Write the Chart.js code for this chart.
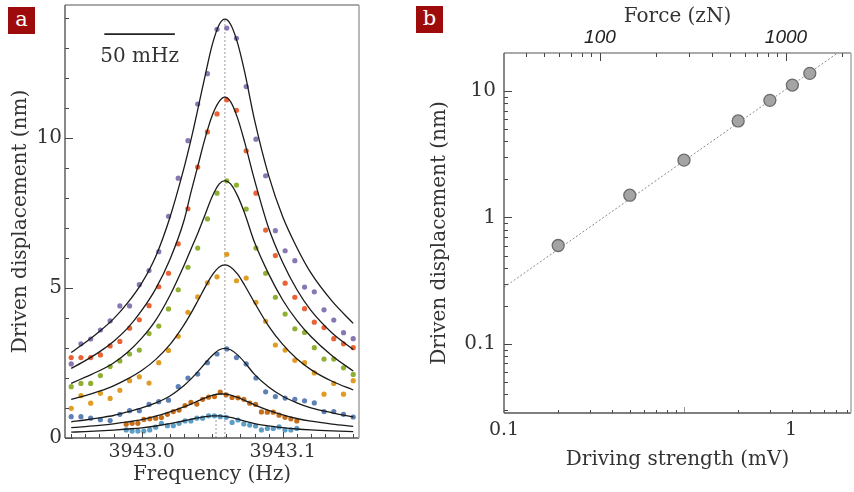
<!DOCTYPE html>
<html><head><meta charset="utf-8">
<script src="https://cdn.jsdelivr.net/npm/chart.js@4.4.1/dist/chart.umd.min.js"></script>
<style>
html,body{margin:0;padding:0;background:#fff;width:854px;height:492px;overflow:hidden}
#ca{position:absolute;left:0;top:0}
#cb{position:absolute;left:400px;top:0}
.tag{position:absolute;width:27px;height:27px;background:#9e0b0b;color:#fff;font:21px "DejaVu Serif";text-align:center;line-height:24px}
</style></head><body>
<canvas id="ca" width="400" height="492"></canvas>
<canvas id="cb" width="454" height="492"></canvas>
<div class="tag" style="left:8px;top:7px">a</div>
<div class="tag" style="left:416px;top:6px">b</div>
<script>
// ---------- Panel a data ----------
const freqA = [3942.9500,3942.9569,3942.9638,3942.9707,3942.9776,3942.9845,3942.9914,3942.9983,3943.0052,3943.0121,
  3943.0190,3943.0259,3943.0328,3943.0397,3943.0466,3943.0534,3943.0603,3943.0672,3943.0741,3943.0810,
  3943.0879,3943.0948,3943.1017,3943.1086,3943.1155,3943.1224,3943.1293,3943.1362,3943.1431,3943.1500];
const freqB = [3942.9890,3942.9932,3942.9973,3943.0015,3943.0057,3943.0099,3943.0140,3943.0182,3943.0224,3943.0265,
  3943.0307,3943.0349,3943.0391,3943.0432,3943.0474,3943.0516,3943.0557,3943.0599,3943.0641,3943.0683,
  3943.0724,3943.0766,3943.0808,3943.0849,3943.0891,3943.0933,3943.0974,3943.1016,3943.1058,3943.1100];
const purpleDots = [2.47,3.14,3.3,3.6,3.9,4.4,4.4,5.11,5.58,6.21,7.39,8.66,9.91,11.13,12.14,13.62,13.66,13.32,11.71,9.96,8.74,6.91,6.24,5.91,5.03,4.87,4.27,3.93,3.51,3.31];
const redDots    = [2.68,2.68,2.68,2.77,3.07,3.22,3.66,3.94,4.41,5.04,5.49,6.47,7.64,9.03,10.2,10.8,11.27,10.92,9.57,8.16,6.93,6.08,5.16,4.69,4.31,3.86,3.68,3.31,3.14,3.01];
const greenDots  = [1.71,1.82,1.82,2.08,2.38,2.57,2.8,2.93,3.48,3.73,4.3,4.94,5.69,6.33,7.3,8.16,8.57,8.43,7.63,6.33,5.49,4.69,4.13,3.64,3.52,3.01,2.63,2.63,2.34,2.12];
const orangeDots = [0.99,1.41,1.16,1.49,1.32,1.59,1.91,2.04,1.83,2.51,2.92,3.39,4.19,4.7,5.17,5.37,6.12,5.24,5.33,4.52,3.89,3.1,2.93,2.59,2.51,2.17,1.46,1.82,1.46,1.91];
const blueDots   = [0.71,0.71,0.66,0.61,0.58,0.79,0.91,0.91,1.12,1.21,1.26,1.71,2.0,2.13,2.51,2.8,2.97,2.68,2.47,2.0,1.54,1.38,1.33,1.29,1.24,1.17,0.88,0.88,0.79,0.7];
const brownDots  = [0.46,0.49,0.49,0.62,0.64,0.66,0.68,0.79,0.88,0.93,1.08,1.19,1.13,1.29,1.36,1.38,1.53,1.44,1.35,1.34,1.29,1.16,1.12,0.87,0.86,0.86,0.76,0.69,0.64,0.57];
const cyanDots   = [0.27,0.23,0.23,0.23,0.27,0.36,0.49,0.41,0.41,0.49,0.57,0.57,0.66,0.66,0.74,0.74,0.71,0.69,0.52,0.6,0.47,0.43,0.4,0.27,0.32,0.32,0.37,0.27,0.27,0.32];

const fitFreq = [3942.95,3942.96,3942.97,3942.98,3942.99,3943.00,3943.01,3943.02,3943.03,3943.035,3943.04,3943.045,3943.05,
  3943.055,3943.059,3943.063,3943.068,3943.073,3943.08,3943.09,3943.10,3943.11,3943.12,3943.135,3943.15];
const purpleFit = [2.85,3.18,3.55,3.97,4.50,5.16,6.06,7.35,9.0,9.95,11.0,12.08,13.1,13.78,13.96,13.79,13.16,12.2,10.6,8.75,7.37,6.35,5.5,4.56,3.82];
const redFit    = [2.32,2.58,2.87,3.22,3.66,4.25,4.98,5.95,7.25,8.2,9.1,10.0,10.75,11.22,11.36,11.21,10.66,9.86,8.6,7.0,5.85,4.95,4.25,3.5,2.95];
const greenFit  = [1.82,2.03,2.24,2.5,2.86,3.33,3.93,4.75,5.75,6.3,6.85,7.45,8.05,8.47,8.58,8.47,8.07,7.49,6.52,5.47,4.6,3.92,3.38,2.74,2.23];
const orangeFit = [1.29,1.41,1.56,1.74,1.97,2.25,2.62,3.11,3.77,4.16,4.59,5.03,5.43,5.70,5.77,5.70,5.46,5.09,4.51,3.73,3.12,2.64,2.28,1.89,1.60];
const blueFit   = [0.54,0.6,0.67,0.75,0.87,1.0,1.17,1.4,1.75,1.97,2.22,2.49,2.75,2.94,2.99,2.94,2.77,2.52,2.12,1.7,1.39,1.17,1.0,0.84,0.7];
const brownFit  = [0.345,0.38,0.42,0.47,0.535,0.61,0.725,0.87,1.04,1.13,1.235,1.335,1.42,1.466,1.466,1.432,1.354,1.252,1.105,0.92,0.77,0.65,0.56,0.465,0.39];
const cyanFit   = [0.194,0.213,0.237,0.265,0.30,0.34,0.40,0.48,0.575,0.622,0.671,0.711,0.736,0.738,0.72,0.685,0.625,0.56,0.48,0.405,0.345,0.30,0.268,0.235,0.21];

const peakLineX = [3943.059,3943.059], peakLineY = [0,13.96];
const peakLine2X = [3943.0527,3943.0527], peakLine2Y = [0,0.72];
const scaleBarX = [3942.9735,3943.0235], scaleBarY = [13.46,13.46];
const scaleBarLabel = '50 mHz';
const aXTicks = [3943.0,3943.1];
const aYTicks = [0,5,10];
const aXMinor = [3942.95,3942.96,3942.97,3942.98,3942.99,3943.0,3943.01,3943.02,3943.03,3943.04,3943.05,
  3943.06,3943.07,3943.08,3943.09,3943.1,3943.11,3943.12,3943.13,3943.14,3943.15];
const aYMinor = [0,1,2,3,4,5,6,7,8,9,10,11,12,13,14];

// ---------- Panel b data ----------
const driveMV = [0.2,0.5,1,2,3,4,5];
const dispNM  = [0.6,1.5,2.84,5.8,8.44,11.15,13.8];
const fitMV = [0.1,7.14], fitNM = [0.28,20];
const bYTicks = [0.1,1,10], bYTickLabels = ['0.1','1','10'];
const bXTickPos = [0.1,3.93], bXTickLabels = ['0.1','1'];
const forceTicks = [100,1000], forceTickLabels = ['100','1000'];
const bYMinor = [0.03,0.04,0.05,0.06,0.07,0.08,0.09,0.1,0.2,0.3,0.4,0.5,0.6,0.7,0.8,0.9,1,2,3,4,5,6,7,8,9,10];
const bXMinor = [0.2,0.3,0.4,0.5,0.6,0.7,0.8,0.9,1,2,3,4,5,6,7,8];
const forceMinor = [40,50,60,70,80,90,100,200,300,400,500,600,700,800,900,1000,2000];

const C = {purple:'#8778B3', red:'#EB6235', green:'#8FB032', orange:'#E19C24', blue:'#5E81B5', brown:'#C56E1A', cyan:'#5D9EC7'};
const SERIF = '"DejaVu Serif", serif';
const TXT = '#333';
const pts = (xs, ys) => xs.map((x, i) => ({x: x, y: ys[i]}));
const noPadX = s => { s.paddingLeft = 0; s.paddingRight = 0; };
const noPadY = s => { s.paddingTop = 0; s.paddingBottom = 0; };

const framePlugin = {
  id: 'frame',
  afterDraw(chart, args, o) {
    const ctx = chart.ctx, a = chart.chartArea;
    ctx.save();
    (o.marks || []).forEach(m => {
      const s = chart.scales[m.scale];
      ctx.lineWidth = 1;
      m.values.forEach(v => {
        const isMajor = (m.major || []).indexOf(v) >= 0;
        const len = isMajor ? m.majorLen : m.minorLen;
        ctx.strokeStyle = (isMajor && m.majorColor) ? m.majorColor : (m.color || '#444');
        const p = Math.round(s.getPixelForValue(v)) + 0.5;
        ctx.beginPath();
        if (m.side === 'left') { ctx.moveTo(a.left, p); ctx.lineTo(a.left + len, p); }
        else if (m.side === 'bottom') { ctx.moveTo(p, a.bottom); ctx.lineTo(p, a.bottom - len); }
        else if (m.side === 'top') { ctx.moveTo(p, a.top); ctx.lineTo(p, a.top + len); }
        ctx.stroke();
      });
    });
    const f = o.frame || {};
    const seg = (col, w, x1, y1, x2, y2) => { if (!col) return; ctx.strokeStyle = col; ctx.lineWidth = w; ctx.beginPath(); ctx.moveTo(x1, y1); ctx.lineTo(x2, y2); ctx.stroke(); };
    seg(f.left, 1.4, a.left, a.top, a.left, a.bottom);
    seg(f.bottom, 1.4, a.left, a.bottom, a.right, a.bottom);
    seg(f.top, 1.2, a.left, a.top, a.right, a.top);
    seg(f.right, 1.6, a.right, a.top, a.right, a.bottom);
    if (o.label) {
      const xs = chart.scales.x, ys = chart.scales.y;
      const cx = (xs.getPixelForValue(o.label.x[0]) + xs.getPixelForValue(o.label.x[1])) / 2;
      const cy = ys.getPixelForValue(o.label.y[0]) + 23;
      ctx.fillStyle = TXT; ctx.font = '20px ' + SERIF; ctx.textAlign = 'center'; ctx.textBaseline = 'middle';
      ctx.fillText(o.label.text, cx, cy);
    }
    ctx.restore();
  }
};

function fitLine(xs, ys) {
  return {data: pts(xs, ys), showLine: true, borderColor: '#1a1a1a', borderWidth: 1.3, pointRadius: 0, cubicInterpolationMode: 'monotone'};
}
function dots(xs, ys, col) {
  return {data: pts(xs, ys), showLine: false, pointRadius: 2.6, pointBorderWidth: 0, backgroundColor: col, borderColor: col};
}
function dotted(xs, ys) {
  return {data: pts(xs, ys), showLine: true, borderColor: '#9a9a9a', borderWidth: 1, borderDash: [2, 2], pointRadius: 0};
}

new Chart(document.getElementById('ca'), {
  type: 'scatter',
  data: {datasets: [
    fitLine(fitFreq, purpleFit), fitLine(fitFreq, redFit), fitLine(fitFreq, greenFit), fitLine(fitFreq, orangeFit),
    fitLine(fitFreq, blueFit), fitLine(fitFreq, brownFit), fitLine(fitFreq, cyanFit),
    dots(freqA, purpleDots, C.purple), dots(freqA, redDots, C.red), dots(freqA, greenDots, C.green),
    dots(freqA, orangeDots, C.orange), dots(freqA, blueDots, C.blue),
    dots(freqB, brownDots, C.brown), dots(freqB, cyanDots, C.cyan),
    dotted(peakLineX, peakLineY), dotted(peakLine2X, peakLine2Y),
    {data: pts(scaleBarX, scaleBarY), showLine: true, borderColor: '#222', borderWidth: 1.6, pointRadius: 0}
  ]},
  options: {
    responsive: false, animation: false, devicePixelRatio: 1,
    layout: {autoPadding: false, padding: {top: 5, right: 41, left: 0, bottom: 0}},
    plugins: {legend: {display: false}, tooltip: {enabled: false},
      frame: {
        marks: [
          {scale: 'y', side: 'left', values: aYMinor, major: aYTicks, minorLen: 4, majorLen: 8},
          {scale: 'x', side: 'bottom', values: aXMinor, major: aXTicks, minorLen: 4, majorLen: 6}
        ],
        frame: {left: '#555', bottom: '#555', top: '#555', right: '#a8a8a8'},
        label: {x: scaleBarX, y: scaleBarY, text: scaleBarLabel}
      }},
    scales: {
      x: {type: 'linear', position: 'bottom', min: 3942.9456, max: 3943.1541, bounds: 'data',
        afterBuildTicks: s => { s.ticks = aXTicks.map(v => ({value: v})); },
        afterFit: s => { s.height = 54; noPadX(s); },
        grid: {display: false, drawTicks: false}, border: {display: false},
        ticks: {autoSkip: false, maxRotation: 0, padding: 3, color: TXT, font: {family: SERIF, size: 19},
          callback: v => Number(v).toFixed(1)},
        title: {display: true, text: 'Frequency (Hz)', color: TXT, font: {family: SERIF, size: 20}, padding: {top: 0, bottom: 5}}},
      y: {type: 'linear', position: 'left', min: 0, max: 14.43, bounds: 'data',
        afterBuildTicks: s => { s.ticks = aYTicks.map(v => ({value: v})); },
        afterFit: s => { s.width = 65; noPadY(s); },
        grid: {display: false, drawTicks: false}, border: {display: false},
        ticks: {autoSkip: false, padding: 3, color: TXT, font: {family: SERIF, size: 20}, callback: v => String(v)},
        title: {display: true, text: 'Driven displacement (nm)', color: TXT, font: {family: SERIF, size: 20}, padding: {top: 9, bottom: 0}}}
    }
  },
  plugins: [framePlugin]
});

new Chart(document.getElementById('cb'), {
  type: 'scatter',
  data: {datasets: [
    {data: pts(driveMV, dispNM), showLine: false, pointRadius: 6, pointBorderWidth: 1.3,
      backgroundColor: '#a4a4a4', borderColor: '#6c6c6c'},
    {data: pts(fitMV, fitNM), showLine: true, borderColor: '#8a8a8a', borderWidth: 1, borderDash: [2, 2], pointRadius: 0}
  ]},
  options: {
    responsive: false, animation: false, devicePixelRatio: 1,
    layout: {autoPadding: false, padding: {top: 0, right: 3, left: 0, bottom: 0}},
    plugins: {legend: {display: false}, tooltip: {enabled: false},
      frame: {
        marks: [
          {scale: 'y', side: 'left', values: bYMinor, major: bYTicks, minorLen: 4, majorLen: 8},
          {scale: 'x2', side: 'top', values: forceMinor, major: forceTicks, minorLen: 4, majorLen: 8},
          {scale: 'x', side: 'bottom', values: bXMinor, major: [1], minorLen: 3, majorLen: 6, majorColor: '#999'}
        ],
        frame: {left: '#555', bottom: '#555', top: '#555', right: '#b0b0b0'}
      }},
    scales: {
      x: {type: 'logarithmic', position: 'bottom', min: 0.1, max: 8.47, bounds: 'data',
        afterBuildTicks: s => { s.ticks = bXTickPos.map(v => ({value: v})); },
        afterFit: s => { s.height = 79; noPadX(s); },
        grid: {display: false, drawTicks: false}, border: {display: false},
        ticks: {autoSkip: false, maxRotation: 0, padding: 6, color: TXT, font: {family: SERIF, size: 19},
          callback: (v, i) => bXTickLabels[i]},
        title: {display: true, text: 'Driving strength (mV)', color: TXT, font: {family: SERIF, size: 20}, padding: {top: 0, bottom: 20}}},
      x2: {type: 'logarithmic', position: 'top', min: 30.5, max: 2236, bounds: 'data',
        afterBuildTicks: s => { s.ticks = forceTicks.map(v => ({value: v})); },
        afterFit: s => { s.height = 53; noPadX(s); },
        grid: {display: false, drawTicks: false}, border: {display: false},
        ticks: {autoSkip: false, maxRotation: 0, padding: 4, color: '#222',
          font: {family: '"Liberation Sans", sans-serif', style: 'italic', size: 19},
          callback: (v, i) => forceTickLabels[i]},
        title: {display: true, text: 'Force (zN)', color: TXT, font: {family: SERIF, size: 20}, padding: {top: 5, bottom: 0}}},
      y: {type: 'logarithmic', position: 'left', min: 0.0284, max: 20, bounds: 'data',
        afterBuildTicks: s => { s.ticks = bYTicks.map(v => ({value: v})); },
        afterFit: s => { s.width = 104; noPadY(s); },
        grid: {display: false, drawTicks: false}, border: {display: false},
        ticks: {autoSkip: false, padding: 8, color: TXT, font: {family: SERIF, size: 20},
          callback: (v, i) => bYTickLabels[i]},
        title: {display: true, text: 'Driven displacement (nm)', color: TXT, font: {family: SERIF, size: 20}, padding: {top: 28, bottom: 0}}}
    }
  },
  plugins: [framePlugin]
});
</script>
</body></html>
